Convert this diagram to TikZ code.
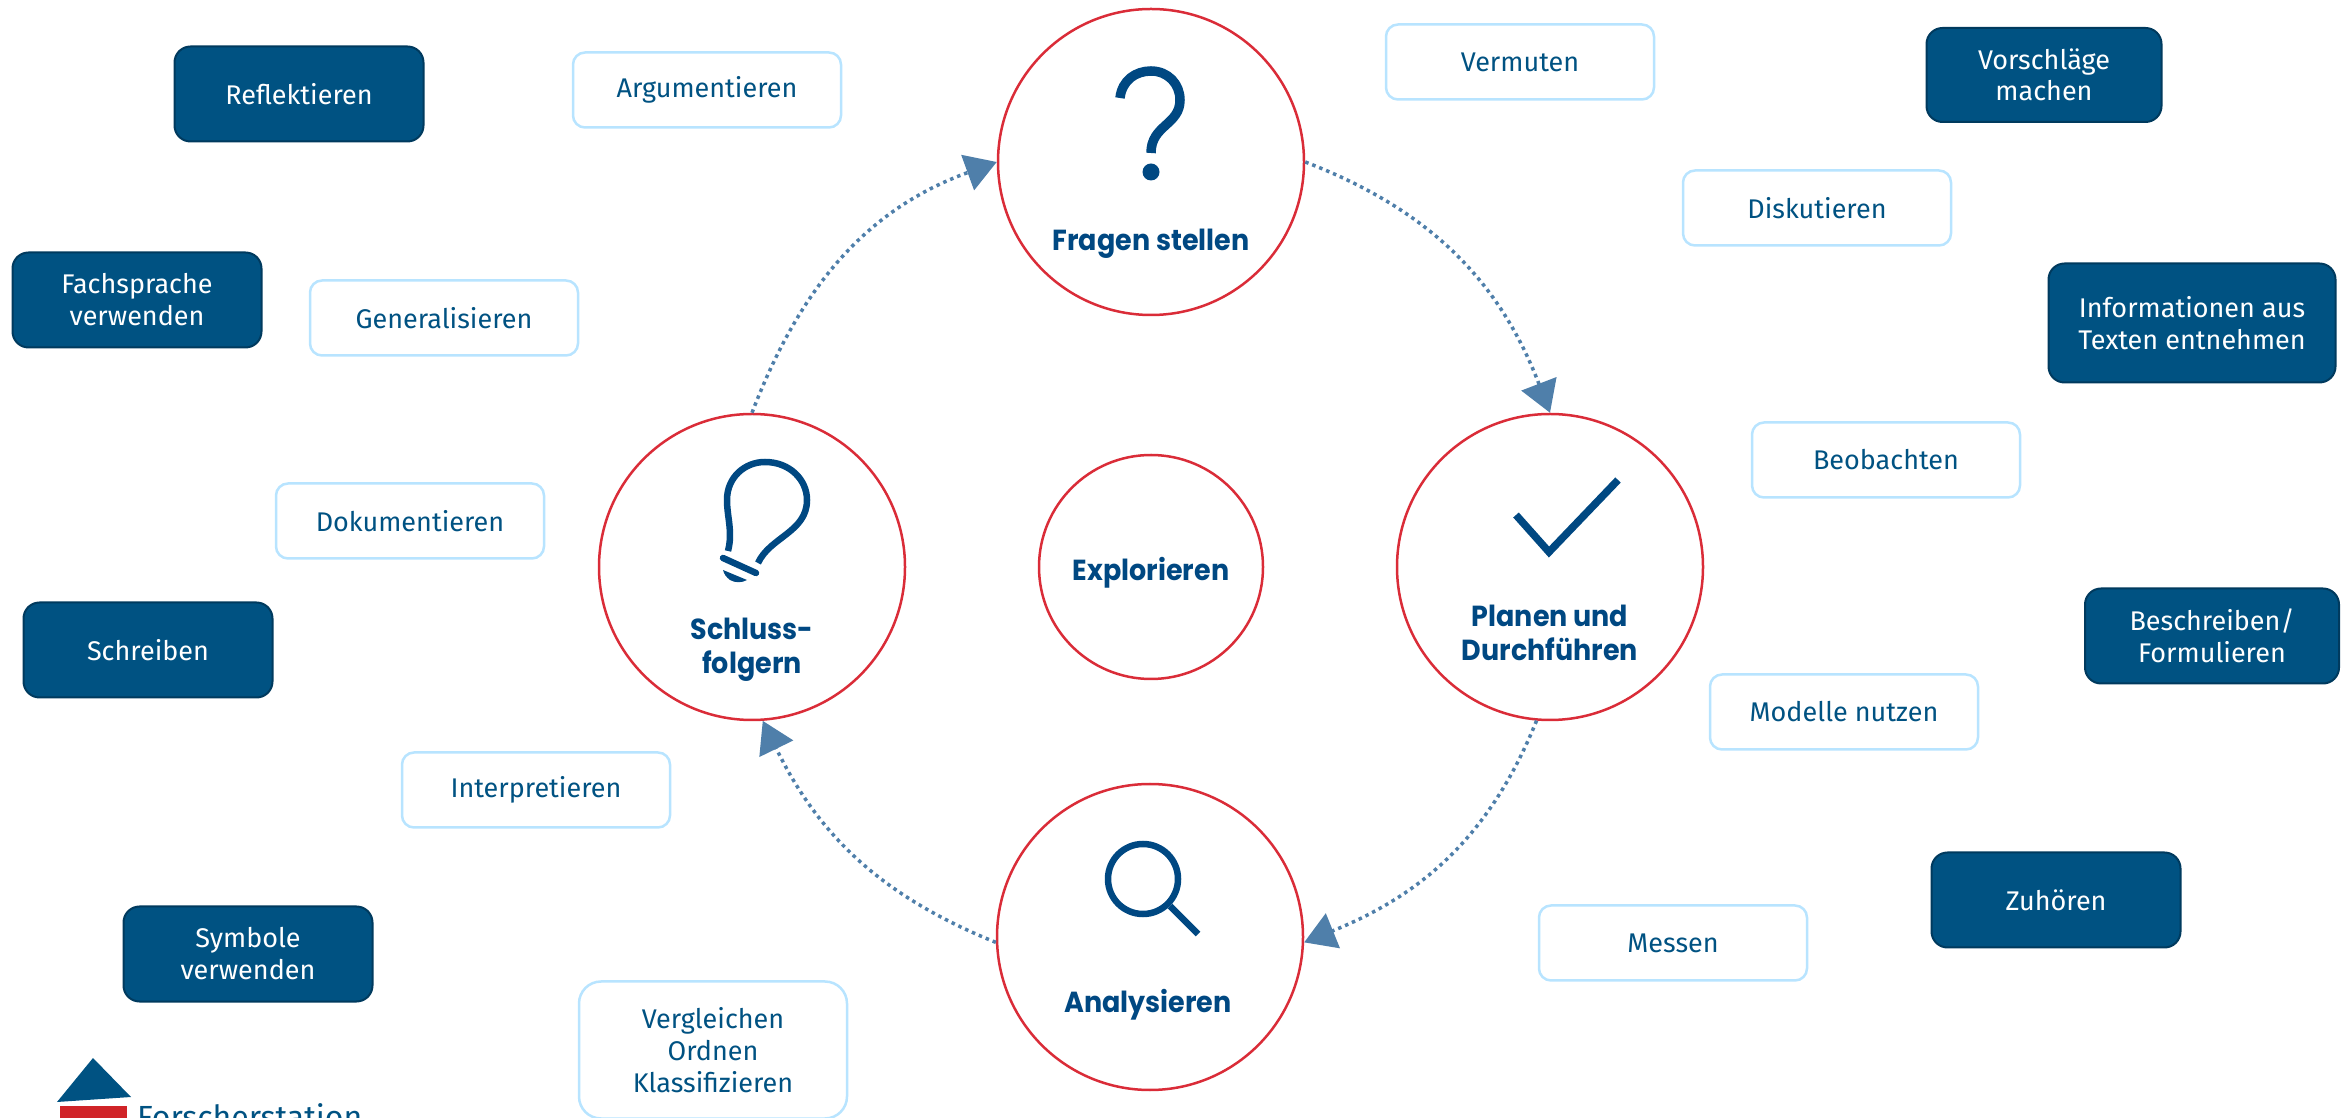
\documentclass[tikz,border=0pt]{standalone}
\usepackage{fontspec}
\usepackage{tikz}
\usetikzlibrary{arrows.meta}
\setmainfont{Fira Sans}
\newfontfamily\titlefont[FakeStretch=0.93]{Poppins}

\definecolor{darkblue}{RGB}{0,82,130}
\definecolor{darkedge}{RGB}{0,58,94}
\definecolor{lightedge}{RGB}{184,228,255}
\definecolor{ringred}{RGB}{218,44,56}
\definecolor{logored}{RGB}{208,36,40}
\definecolor{titleblue}{RGB}{0,72,130}
\definecolor{arcblue}{RGB}{79,127,170}

\tikzset{
	darkbox/.style={draw=darkedge,line width=2pt,fill=darkblue,text=white,rounded corners=16pt,minimum width=249pt,minimum height=95pt,align=center,inner sep=0pt,font=\fontsize{27}{32}\selectfont},
	lightbox/.style={draw=lightedge,line width=2.5pt,fill=white,text=darkblue,rounded corners=12pt,minimum width=268pt,minimum height=75pt,align=center,inner sep=0pt,font=\fontsize{27}{32}\selectfont},
	ring/.style={draw=ringred,line width=2.5pt,circle,minimum size=306pt,inner sep=0pt},
	ringtitle/.style={text=titleblue,align=center,inner sep=0pt,font=\titlefont\bfseries\fontsize{29}{34}\selectfont},
	arc/.style={draw=arcblue,line width=3.5pt,dash pattern=on 3.5pt off 4pt,-{Triangle[length=31pt,width=37pt,fill=arcblue]}},
	icon/.style={draw=titleblue,line width=6.5pt}
}

\begin{document}
\begin{tikzpicture}[x=1pt,y=1pt]
				\useasboundingbox (0,0) rectangle (2351,1117);
				\clip (0,0) rectangle (2351,1117);
				\node[ring] (fragen) at (1151,955) {};
				\node[ring] (planen) at (1550,550) {};
				\node[ring] (analyse) at (1150,180) {};
				\node[ring] (schluss) at (752,550) {};
				\node[ring,minimum size=224pt] (explore) at (1151,550) {};
				\node[ringtitle] (fragentext) at (1151,873) {Fragen stellen};
				\node[ringtitle] (planentext) at (1550,484) {Planen und\\Durchführen};
				\node[ringtitle] (analysetext) at (1148,112) {Analysieren};
				\node[ringtitle] (schlusstext) at (752,467) {Schluss-\\folgern};
				\node[ringtitle] (exploretext) at (1151,544) {Explorieren};
				\draw[arc] (fragen.0) to[out=-21,in=111] (planen.90);
				\draw[arc] (planen.265) to[out=248,in=22] (analyse.-2);
				\draw[arc] (analyse.182) to[out=158,in=296] (schluss.-86);
				\draw[arc] (schluss.90) to[out=69,in=200] (fragen.180);
				\draw[icon,line width=9.5pt] (1120,1019) .. controls (1122,1037) and (1136,1046) .. (1151,1046) .. controls (1168,1046) and (1180,1033) .. (1180,1017) .. controls (1180,992) and (1151,992) .. (1151,964);
				\fill[titleblue] (1151,945) circle (8.5pt);
				\draw[icon,line width=7.5pt] (1516,602) -- (1549,565) -- (1618,637);
				\draw[icon] (1143,238) circle (35pt);
				\draw[icon] (1170,211) -- (1198,183);
				\draw[icon] (728,566) .. controls (733,585) and (727,600) .. (727,617) .. controls (727,640) and (745,655) .. (765,655) .. controls (790,655) and (807,637) .. (807,617) .. controls (807,585) and (770,580) .. (758,554);
				\draw[icon,line cap=round] (723,559) -- (756,544);
				\fill[titleblue] (723,547) -- (747,537) .. controls (742,534) and (735,534) .. (730,537) .. controls (726,540) and (724,543) .. (723,547);
				\node[darkbox] (reflektieren) at (299,1023) {Reflektieren};
				\node[darkbox] (fachsprache) at (137,817) {Fachsprache\\verwenden};
				\node[darkbox] (schreiben) at (148,467) {Schreiben};
				\node[darkbox] (symbole) at (248,163) {Symbole\\verwenden};
				\node[darkbox,minimum width=235pt,minimum height=94pt] (vorschlaege) at (2044,1042) {Vorschläge\\[-1pt]machen};
				\node[darkbox,minimum width=287pt,minimum height=119pt] (informationen) at (2192,794) {Informationen aus\\Texten entnehmen};
				\node[darkbox,minimum width=254pt] (beschreiben) at (2212,481) {Beschreiben/\\Formulieren};
				\node[darkbox] (zuhoeren) at (2056,217) {Zuhören};
				\node[lightbox] (argumentieren) at (707,1027) {Argumentieren};
				\node[lightbox] (generalisieren) at (444,799) {Generalisieren};
				\node[lightbox] (dokumentieren) at (410,596) {Dokumentieren};
				\node[lightbox] (interpretieren) at (536,327) {Interpretieren};
				\node[lightbox,minimum height=137pt,rounded corners=22pt] (vergleichen) at (713,67) {Vergleichen\\Ordnen\\Klassifizieren};
				\node[lightbox] (vermuten) at (1520,1055) {Vermuten};
				\node[lightbox] (diskutieren) at (1817,909) {Diskutieren};
				\node[lightbox] (beobachten) at (1886,657) {Beobachten};
				\node[lightbox] (modelle) at (1844,405) {Modelle nutzen};
				\node[lightbox] (messen) at (1673,174) {Messen};
				\fill[darkblue] (57,15) -- (93,59) -- (131,20) -- cycle;
				\fill[logored] (60,-20) rectangle (127,11);
				\node[anchor=base west,text=darkblue,inner sep=0pt,font=\fontsize{32}{34}\selectfont] (logotext) at (137,-11) {Forscherstation};
			\end{tikzpicture}
\end{document}
